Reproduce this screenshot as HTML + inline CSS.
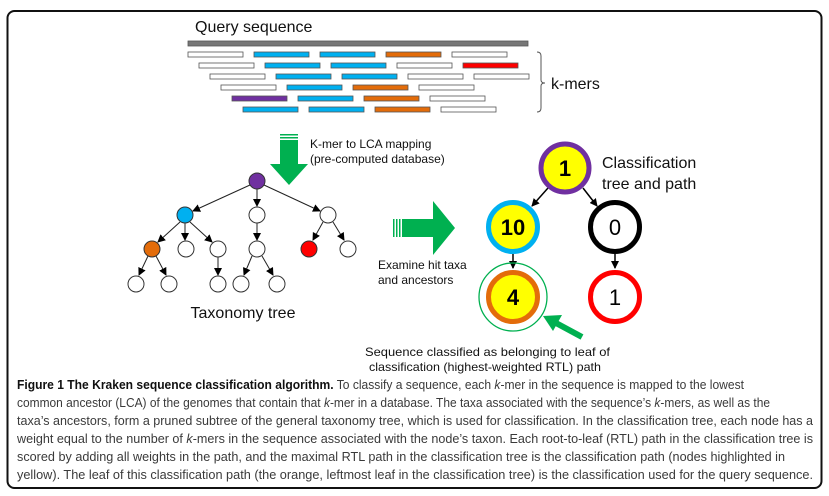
<!DOCTYPE html>
<html><head><meta charset="utf-8"><style>
html,body{margin:0;padding:0;background:#fff;}
svg{display:block;}
</style></head><body>
<svg width="829" height="496" viewBox="0 0 829 496" xmlns="http://www.w3.org/2000/svg" font-family="Liberation Sans, Arial, sans-serif">
<defs>
<marker id="ah" markerWidth="8" markerHeight="8" refX="7" refY="4" orient="auto" markerUnits="userSpaceOnUse"><path d="M0,0 L8,4 L0,8 z" fill="#000"/></marker>
</defs>
<rect x="7.5" y="11" width="814" height="477" rx="7" fill="none" stroke="#111" stroke-width="2"/>
<text x="195" y="32" font-size="16" fill="#111">Query sequence</text>
<rect x="188" y="41" width="340" height="5" fill="#777" stroke="#555" stroke-width="0.8"/>
<g stroke="#555" stroke-width="0.8">
<rect x="188" y="52" width="55" height="5" fill="#fff"/><rect x="254" y="52" width="55" height="5" fill="#00b0f0"/><rect x="320" y="52" width="55" height="5" fill="#00b0f0"/><rect x="386" y="52" width="55" height="5" fill="#e36c0a"/><rect x="452" y="52" width="55" height="5" fill="#fff"/>
<rect x="199" y="63" width="55" height="5" fill="#fff"/><rect x="265" y="63" width="55" height="5" fill="#00b0f0"/><rect x="331" y="63" width="55" height="5" fill="#00b0f0"/><rect x="397" y="63" width="55" height="5" fill="#fff"/><rect x="463" y="63" width="55" height="5" fill="#ff0000"/>
<rect x="210" y="74" width="55" height="5" fill="#fff"/><rect x="276" y="74" width="55" height="5" fill="#00b0f0"/><rect x="342" y="74" width="55" height="5" fill="#00b0f0"/><rect x="408" y="74" width="55" height="5" fill="#fff"/><rect x="474" y="74" width="55" height="5" fill="#fff"/>
<rect x="221" y="85" width="55" height="5" fill="#fff"/><rect x="287" y="85" width="55" height="5" fill="#00b0f0"/><rect x="353" y="85" width="55" height="5" fill="#e36c0a"/><rect x="419" y="85" width="55" height="5" fill="#fff"/>
<rect x="232" y="96" width="55" height="5" fill="#7030a0"/><rect x="298" y="96" width="55" height="5" fill="#00b0f0"/><rect x="364" y="96" width="55" height="5" fill="#e36c0a"/><rect x="430" y="96" width="55" height="5" fill="#fff"/>
<rect x="243" y="107" width="55" height="5" fill="#00b0f0"/><rect x="309" y="107" width="55" height="5" fill="#00b0f0"/><rect x="375" y="107" width="55" height="5" fill="#e36c0a"/><rect x="441" y="107" width="55" height="5" fill="#fff"/>
</g>
<path d="M537,52 Q541,52 541,56 L541,80 Q541,83 545,83 Q541,83 541,86 L541,108 Q541,112 537,112" fill="none" stroke="#555" stroke-width="1"/>
<text x="551" y="89" font-size="16" fill="#111">k-mers</text>

<!-- down arrow -->
<g fill="#00b050">
<rect x="280" y="134" width="18" height="1.5"/><rect x="280" y="137" width="18" height="1.5"/>
<rect x="280" y="140" width="18" height="25"/>
<polygon points="270,164 308,164 289,185"/>
</g>
<text x="310" y="148" font-size="12" fill="#111">K-mer to LCA mapping</text>
<text x="310" y="163" font-size="12" fill="#111">(pre-computed database)</text>

<!-- taxonomy tree -->
<g stroke="#222" stroke-width="1" marker-end="url(#ah)">
<line x1="250" y1="185" x2="193" y2="211"/>
<line x1="257" y1="189" x2="257" y2="206"/>
<line x1="264" y1="185" x2="320" y2="211"/>
<line x1="180" y1="222" x2="158" y2="242"/>
<line x1="185" y1="223" x2="185" y2="240"/>
<line x1="190" y1="222" x2="212" y2="242"/>
<line x1="257" y1="223" x2="257" y2="240"/>
<line x1="323" y1="222" x2="313" y2="240"/>
<line x1="333" y1="222" x2="344" y2="240"/>
<line x1="148" y1="256" x2="139" y2="275"/>
<line x1="156" y1="256" x2="166" y2="275"/>
<line x1="218" y1="257" x2="218" y2="275"/>
<line x1="252" y1="256" x2="244" y2="275"/>
<line x1="262" y1="256" x2="273" y2="275"/>
</g>
<g stroke="#333" stroke-width="1">
<circle cx="257" cy="181" r="8" fill="#7030a0"/>
<circle cx="185" cy="215" r="8" fill="#00b0f0"/>
<circle cx="257" cy="215" r="8" fill="#fff"/>
<circle cx="328" cy="215" r="8" fill="#fff"/>
<circle cx="152" cy="249" r="8" fill="#e36c0a"/>
<circle cx="186" cy="249" r="8" fill="#fff"/>
<circle cx="218" cy="249" r="8" fill="#fff"/>
<circle cx="257" cy="249" r="8" fill="#fff"/>
<circle cx="309" cy="249" r="8" fill="#ff0000"/>
<circle cx="348" cy="249" r="8" fill="#fff"/>
<circle cx="136" cy="284" r="8" fill="#fff"/>
<circle cx="169" cy="284" r="8" fill="#fff"/>
<circle cx="218" cy="284" r="8" fill="#fff"/>
<circle cx="241" cy="284" r="8" fill="#fff"/>
<circle cx="277" cy="284" r="8" fill="#fff"/>
</g>
<text x="243" y="318" font-size="16" fill="#111" text-anchor="middle">Taxonomy tree</text>

<!-- right arrow -->
<g fill="#00b050">
<rect x="393" y="219" width="1.5" height="18"/><rect x="396" y="219" width="1.5" height="18"/><rect x="399" y="219" width="1.5" height="18"/>
<rect x="402" y="219" width="32" height="18"/>
<polygon points="433,201 455,228 433,255"/>
</g>
<text x="378" y="269" font-size="12" fill="#111">Examine hit taxa</text>
<text x="378" y="284" font-size="12" fill="#111">and ancestors</text>

<!-- classification tree -->
<g stroke="#000" stroke-width="1.5" marker-end="url(#ah)">
<line x1="548" y1="188" x2="532" y2="206"/>
<line x1="583" y1="188" x2="597" y2="206"/>
<line x1="513" y1="254" x2="513" y2="268"/>
<line x1="615" y1="254" x2="615" y2="268"/>
</g>
<circle cx="513" cy="297" r="34" fill="none" stroke="#00b050" stroke-width="1.3"/>
<circle cx="565" cy="168" r="24" fill="#ffff00" stroke="#7030a0" stroke-width="5"/>
<circle cx="513" cy="227" r="24.5" fill="#ffff00" stroke="#00b0f0" stroke-width="5"/>
<circle cx="615" cy="227" r="24.5" fill="#fff" stroke="#000" stroke-width="5"/>
<circle cx="513" cy="297" r="24.5" fill="#ffff00" stroke="#e36c0a" stroke-width="5"/>
<circle cx="615" cy="297" r="24.5" fill="#fff" stroke="#ff0000" stroke-width="5"/>
<text x="565" y="176" font-size="22" font-weight="bold" text-anchor="middle" fill="#000">1</text>
<text x="513" y="235" font-size="22" font-weight="bold" text-anchor="middle" fill="#000">10</text>
<text x="615" y="235" font-size="22" text-anchor="middle" fill="#000">0</text>
<text x="513" y="305" font-size="22" font-weight="bold" text-anchor="middle" fill="#000">4</text>
<text x="615" y="305" font-size="22" text-anchor="middle" fill="#000">1</text>
<text x="602" y="168" font-size="16" fill="#111">Classification</text>
<text x="602" y="189" font-size="16" fill="#111">tree and path</text>

<!-- diagonal arrow -->
<line x1="582" y1="337" x2="556" y2="323" stroke="#00b050" stroke-width="6"/>
<polygon points="543,316 562,315 553,331" fill="#00b050"/>
<text x="365" y="356" font-size="12" fill="#111" textLength="245" lengthAdjust="spacingAndGlyphs">Sequence classified as belonging to leaf of</text>
<text x="369" y="371" font-size="12" fill="#111" textLength="232" lengthAdjust="spacingAndGlyphs">classification (highest-weighted RTL) path</text>

<!-- caption -->
<g font-size="12.5" fill="#3a3a3a">
<text x="17" y="389" textLength="727" lengthAdjust="spacingAndGlyphs"><tspan font-weight="bold" fill="#111">Figure 1 The Kraken sequence classification algorithm.</tspan> To classify a sequence, each <tspan font-style="italic">k</tspan>-mer in the sequence is mapped to the lowest</text>
<text x="17" y="407" textLength="753" lengthAdjust="spacingAndGlyphs">common ancestor (LCA) of the genomes that contain that <tspan font-style="italic">k</tspan>-mer in a database. The taxa associated with the sequence’s <tspan font-style="italic">k</tspan>-mers, as well as the</text>
<text x="17" y="425" textLength="796" lengthAdjust="spacingAndGlyphs">taxa’s ancestors, form a pruned subtree of the general taxonomy tree, which is used for classification. In the classification tree, each node has a</text>
<text x="17" y="443" textLength="796" lengthAdjust="spacingAndGlyphs">weight equal to the number of <tspan font-style="italic">k</tspan>-mers in the sequence associated with the node’s taxon. Each root-to-leaf (RTL) path in the classification tree is</text>
<text x="17" y="461" textLength="768" lengthAdjust="spacingAndGlyphs">scored by adding all weights in the path, and the maximal RTL path in the classification tree is the classification path (nodes highlighted in</text>
<text x="17" y="479" textLength="796" lengthAdjust="spacingAndGlyphs">yellow). The leaf of this classification path (the orange, leftmost leaf in the classification tree) is the classification used for the query sequence.</text>
</g>
</svg>
</body></html>
